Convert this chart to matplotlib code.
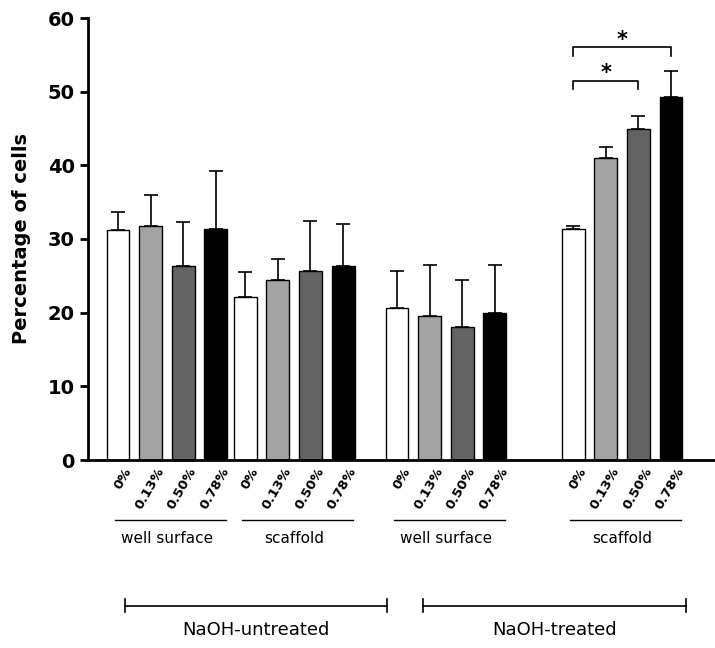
import matplotlib
matplotlib.use("Agg")
import matplotlib.pyplot as plt
import numpy as np

concs = ["0%", "0.13%", "0.50%", "0.78%"]
group_names = ["well surface", "scaffold", "well surface", "scaffold"]
treat_names = ["NaOH-untreated", "NaOH-treated"]
means = [[31.2, 31.7, 26.3, 31.4],
         [22.1, 24.5, 25.7, 26.3],
         [20.7, 19.5, 18.0, 20.0],
         [31.4, 41.0, 45.0, 49.3]]
errs = [[2.5, 4.3, 6.0, 7.8],
        [3.4, 2.8, 6.8, 5.7],
        [5.0, 7.0, 6.5, 6.5],
        [0.3, 1.5, 1.7, 3.5]]
colors = ["white", "#a3a3a3", "#636363", "black"]
group_starts = [0.0, 3.9, 8.55, 13.95]

fig = plt.figure(figsize=(7.15, 6.48), dpi=100)
ax = fig.add_axes([88/715, 1-460/648, 1-88/715, (460-18)/648])
xs_all, labs = [], []
for g in range(4):
    xs = group_starts[g] + np.arange(4)
    ax.bar(xs, means[g], width=0.7, color=colors, edgecolor="black", linewidth=1.0, zorder=2)
    ax.errorbar(xs, means[g], yerr=[np.zeros(4), errs[g]], fmt="none", ecolor="black",
                elinewidth=1.2, capsize=5, capthick=1.2, zorder=1)
    xs_all += list(xs); labs += concs
ax.set_xlim(-0.92, 18.3)
ax.set_ylim(0, 60)
ax.set_xticks(np.array(xs_all) + 0.15)
ax.set_xticklabels(labs, rotation=60, ha="right", rotation_mode="anchor", fontsize=9.5, fontweight="bold")
ax.tick_params(axis="x", length=0, pad=4)
ax.set_yticks(range(0, 61, 10))
ax.tick_params(axis="y", labelsize=14, width=2, length=6)
for t in ax.get_yticklabels():
    t.set_fontweight("bold")
ax.spines["top"].set_visible(False)
ax.spines["right"].set_visible(False)
ax.spines["left"].set_linewidth(2)
ax.spines["bottom"].set_linewidth(2)
ax.set_ylabel("Percentage of cells", fontsize=14, fontweight="bold", labelpad=12)

g4 = group_starts[3]
for y, x2 in [(56, g4 + 3), (51.5, g4 + 2)]:
    ax.plot([g4, g4, x2, x2], [y - 1.2, y, y, y - 1.2], color="black", lw=1.2, clip_on=False)
    ax.text((g4 + x2) / 2, y - 0.3, "*", ha="center", va="bottom", fontsize=15, fontweight="bold")

trans = ax.get_xaxis_transform()
for g in range(4):
    s = group_starts[g]
    ax.plot([s - 0.1, s + 3.3], [-0.135, -0.135], transform=trans, color="black", lw=1, clip_on=False)
    ax.text(s + 1.5, -0.16, group_names[g], transform=trans, ha="center", va="top", fontsize=11)
for i, (a, b) in enumerate([(0.2, 8.25), (9.35, 17.4)]):
    ax.plot([a, b], [-0.33, -0.33], transform=trans, color="black", lw=1.2, clip_on=False)
    for x in (a, b):
        ax.plot([x, x], [-0.345, -0.315], transform=trans, color="black", lw=1.2, clip_on=False)
    ax.text((a + b) / 2, -0.365, treat_names[i], transform=trans, ha="center", va="top", fontsize=13)

fig.savefig("out.png", dpi=100)
